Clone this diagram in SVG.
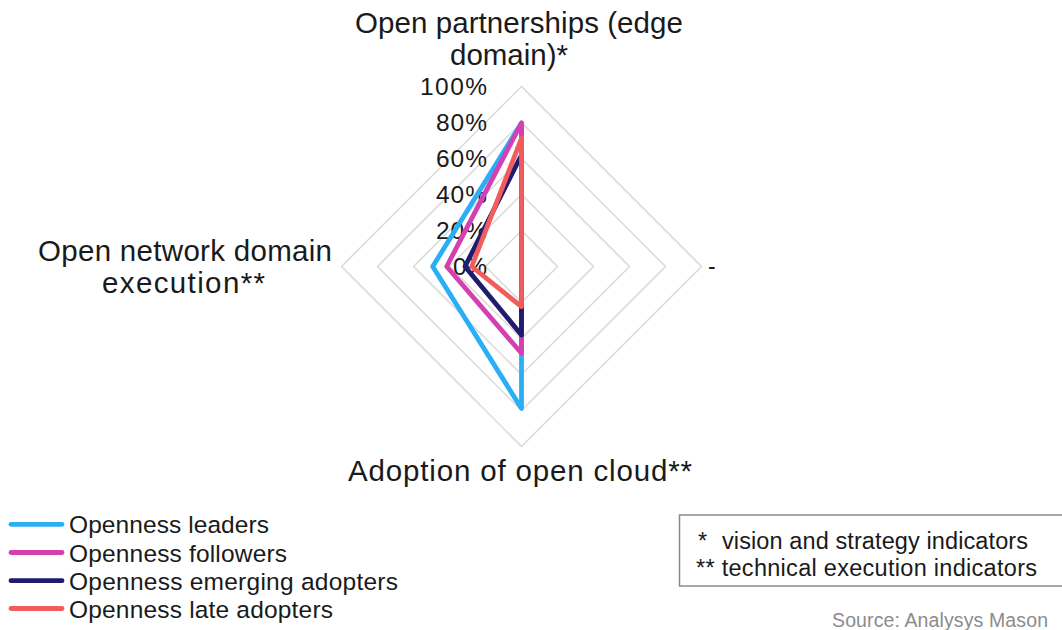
<svg xmlns="http://www.w3.org/2000/svg" width="1062" height="630" viewBox="0 0 1062 630">
<style>
  text { font-family: "Liberation Sans", Arial, sans-serif; fill: #1a1a1a; }
  .ax { font-size: 29.5px; text-anchor: middle; }
  .pct { font-size: 24.5px; text-anchor: end; }
  .lg { font-size: 24.5px; }
  .fn { font-size: 23.5px; }
  .src { font-size: 19.5px; fill: #8c8c8c; }
  .grid { fill: none; stroke: #d9d9d9; stroke-width: 1.5; }
  .series { fill: none; stroke-width: 4.8; stroke-linejoin: round; stroke-linecap: round; }
  .lead { stroke: #2aaef5; }
  .foll { stroke: #d43fb2; }
  .emer { stroke: #1f1b6e; }
  .late { stroke: #f25c5c; }
</style>
<rect width="1062" height="630" fill="#ffffff"/>

<g id="grid">
  <polygon class="grid" points="521.5,86.5 701.5,266.5 521.5,446.5 341.5,266.5"/>
  <polygon class="grid" points="521.5,122.5 665.5,266.5 521.5,410.5 377.5,266.5"/>
  <polygon class="grid" points="521.5,158.5 629.5,266.5 521.5,374.5 413.5,266.5"/>
  <polygon class="grid" points="521.5,194.5 593.5,266.5 521.5,338.5 449.5,266.5"/>
  <polygon class="grid" points="521.5,230.5 557.5,266.5 521.5,302.5 485.5,266.5"/>
</g>

<g id="scale-labels">
  <text class="pct" x="487" y="95" textLength="67">100%</text>
  <text class="pct" x="487" y="131" textLength="51">80%</text>
  <text class="pct" x="487" y="167" textLength="51">60%</text>
  <text class="pct" x="487" y="203" textLength="51">40%</text>
  <text class="pct" x="487" y="239" textLength="51">20%</text>
  <text class="pct" x="487" y="275" textLength="34">0%</text>
</g>

<g id="connectors">
  <polygon id="s-leaders" class="series lead" points="521.5,123 521.5,266.5 521.5,408.5 432.7,266.5"/>
  <polygon id="s-followers" class="series foll" points="521.5,123 521.5,266.5 521.5,353.3 446.7,266.5"/>
  <polygon id="s-emerging" class="series emer" points="521.5,155 521.5,266.5 521.5,335 465,266.5"/>
  <polygon id="s-late" class="series late" points="521.5,138.3 521.5,266.5 521.5,306.7 471.7,266.5"/>
</g>

<g id="axis-top">
  <text class="ax" x="519" y="33" textLength="328">Open partnerships (edge</text>
  <text class="ax" x="509" y="65" textLength="118">domain)*</text>
</g>
<g id="axis-left">
  <text class="ax" x="185" y="261" textLength="294">Open network domain</text>
  <text class="ax" x="183.5" y="293" textLength="163">execution**</text>
</g>
<g id="axis-bottom">
  <text class="ax" x="520" y="481" textLength="344">Adoption of open cloud**</text>
</g>
<g id="axis-right">
  <text x="708" y="274" style="font-size:23px">-</text>
</g>

<g id="legend">
  <line class="series lead" x1="11" y1="524.3" x2="62" y2="524.3"/>
  <text class="lg" x="69" y="533" textLength="200">Openness leaders</text>
  <line class="series foll" x1="11" y1="552.5" x2="62" y2="552.5"/>
  <text class="lg" x="69" y="561.5" textLength="218">Openness followers</text>
  <line class="series emer" x1="11" y1="580.7" x2="62" y2="580.7"/>
  <text class="lg" x="69" y="590" textLength="329">Openness emerging adopters</text>
  <line class="series late" x1="11" y1="608.5" x2="62" y2="608.5"/>
  <text class="lg" x="69" y="617.5" textLength="264">Openness late adopters</text>
</g>

<g id="footnote">
  <rect x="679.5" y="515" width="390" height="71" fill="#ffffff" stroke="#8a8a8a" stroke-width="1.5"/>
  <text class="fn" x="698" y="549">*</text>
  <text class="fn" x="722" y="549" textLength="306">vision and strategy indicators</text>
  <text class="fn" x="696" y="576" textLength="341">** technical execution indicators</text>
</g>

<g id="source">
  <text class="src" x="832" y="627" textLength="216">Source: Analysys Mason</text>
</g>
</svg>
